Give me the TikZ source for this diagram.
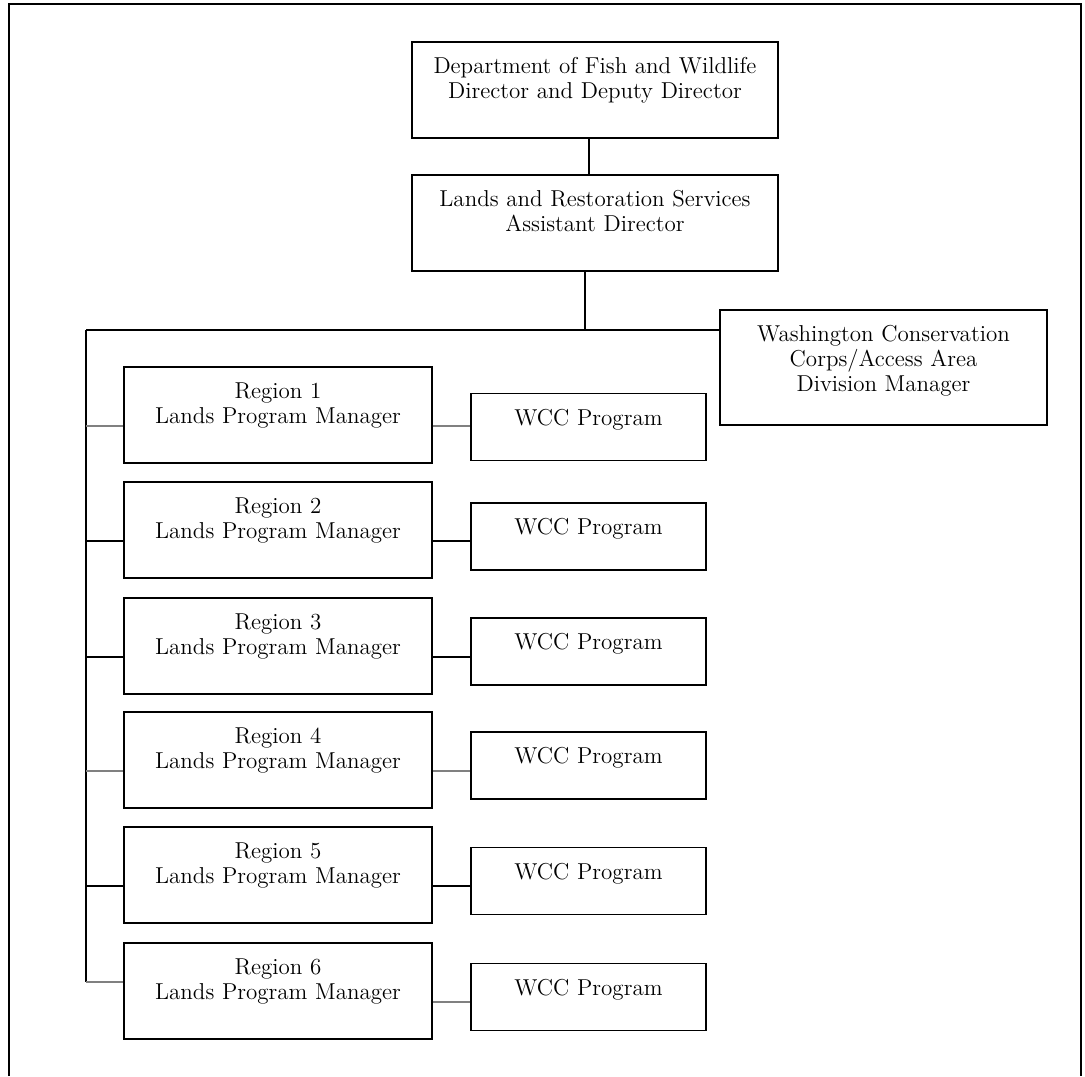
\documentclass[tikz,border=0pt]{standalone}
\usepackage{tikz}

\begin{document}
\begin{tikzpicture}[x=0.5pt, y=-0.5pt, inner sep=0pt,
  unit/.style={draw, line width=0.8pt, align=center, text height=15.75pt,
    font=\fontsize{11.5}{12.5}\selectfont},
  office/.style={unit, text width=183pt, text depth=32.25pt},
  region/.style={unit, text width=154pt, text depth=32.25pt},
  wcc/.style={unit, text width=117.5pt, text depth=17.75pt},
  link/.style={line width=0.8pt},
  faint/.style={line width=0.7pt, draw=black!50}]
\useasboundingbox (0,0) rectangle (1085,1076);
% frame, open at the bottom
\draw[line width=1pt] (8.5,1076) -- (8.5,4) -- (1081,4) -- (1081,1076);

\node (dfw) at (595,90) [office] {Department of Fish and Wildlife\\Director and Deputy Director};
\node (lrs) at (595,223) [office] {Lands and Restoration Services\\Assistant Director};
\node (wca) at (883.5,367.5) [unit, text width=163.5pt, text depth=41.75pt] {Washington Conservation\\Corps/Access Area\\Division Manager};

\node (r1) at (278,415) [region] {Region 1\\Lands Program Manager};
\node (r2) at (278,530) [region] {Region 2\\Lands Program Manager};
\node (r3) at (278,646) [region] {Region 3\\Lands Program Manager};
\node (r4) at (278,760) [region] {Region 4\\Lands Program Manager};
\node (r5) at (278,875) [region] {Region 5\\Lands Program Manager};
\node (r6) at (278,991) [region] {Region 6\\Lands Program Manager};

\node (w1) at (588.5,427) [wcc] {WCC Program};
\node (w2) at (588.5,536.5) [wcc] {WCC Program};
\node (w3) at (588.5,651.5) [wcc] {WCC Program};
\node (w4) at (588.5,765.5) [wcc] {WCC Program};
\node (w5) at (588.5,881) [wcc] {WCC Program};
\node (w6) at (588.5,997) [wcc] {WCC Program};

\coordinate (bus) at (585,330);
\coordinate (corner) at (86,330);
\coordinate (r1l) at ([yshift=-5.5pt]r1.west);
\coordinate (r1r) at ([yshift=-5.5pt]r1.east);
\coordinate (r2l) at ([yshift=-5.5pt]r2.west);
\coordinate (r2r) at ([yshift=-5.5pt]r2.east);
\coordinate (r3l) at ([yshift=-5.5pt]r3.west);
\coordinate (r3r) at ([yshift=-5.5pt]r3.east);
\coordinate (r4l) at ([yshift=-5.5pt]r4.west);
\coordinate (r4r) at ([yshift=-5.5pt]r4.east);
\coordinate (r5l) at ([yshift=-5.5pt]r5.west);
\coordinate (r5r) at ([yshift=-5.5pt]r5.east);
\coordinate (r6l) at ([yshift=4.5pt]r6.west);
\coordinate (r6r) at ([yshift=-5.5pt]r6.east);

\draw[link] ([xshift=-3pt]dfw.south) -- ([xshift=-3pt]lrs.north);
\draw[link] (bus |- lrs.south) -- (bus);
\draw[link] (corner) -- (wca.west |- bus);
\draw[link] (corner) -- (corner |- r6l);

\draw[faint] (corner |- r1l) -- (r1l);
\draw[faint] (r1r) -- (r1r -| w1.west);
\draw[link] (corner |- r2l) -- (r2l);
\draw[link] (r2r) -- (r2r -| w2.west);
\draw[link] (corner |- r3l) -- (r3l);
\draw[link] (r3r) -- (r3r -| w3.west);
\draw[faint] (corner |- r4l) -- (r4l);
\draw[faint] (r4r) -- (r4r -| w4.west);
\draw[link] (corner |- r5l) -- (r5l);
\draw[link] (r5r) -- (r5r -| w5.west);
\draw[faint] (corner |- r6l) -- (r6l);
\draw[faint] (r6r) -- (r6r -| w6.west);
\end{tikzpicture}
\end{document}
